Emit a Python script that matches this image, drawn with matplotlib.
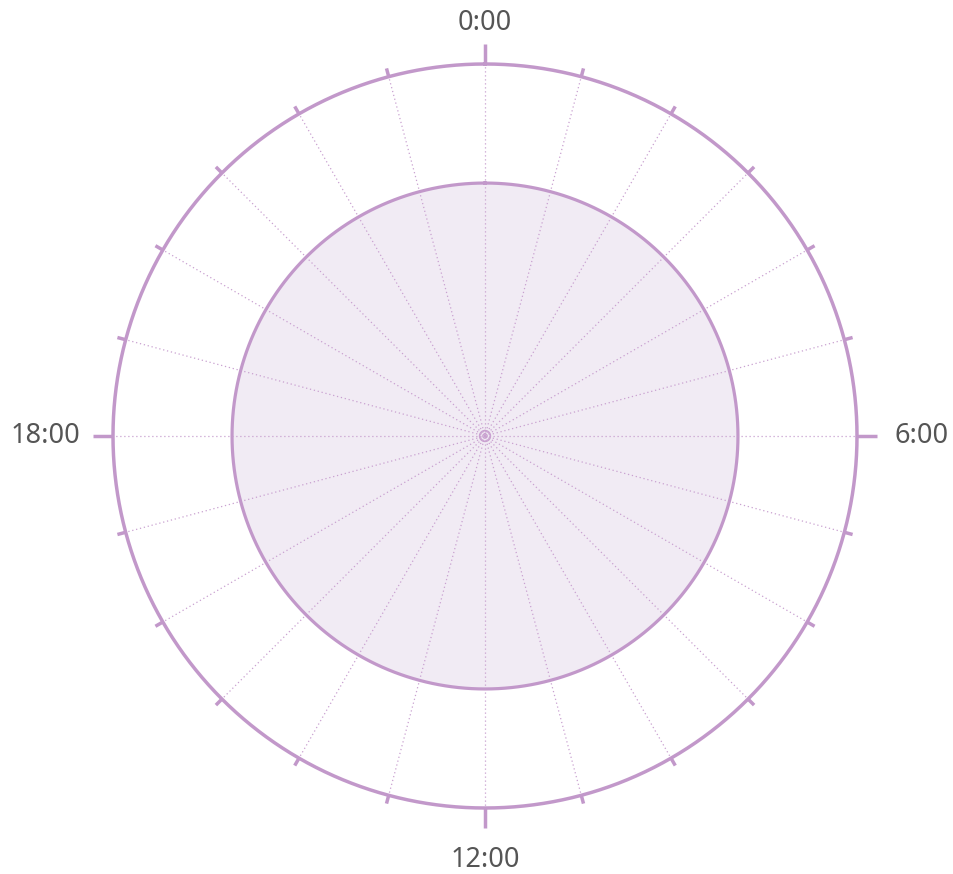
import numpy as np
import matplotlib
matplotlib.use("Agg")
import matplotlib.pyplot as plt

hours = list(range(24))
values = [68, 68, 68, 68, 68, 68, 68, 68, 68, 68, 68, 68,
          68, 68, 68, 68, 68, 68, 68, 68, 68, 68, 68, 68]
r_max = 100
hour_labels = {0: "0:00", 6: "6:00", 12: "12:00", 18: "18:00"}

line_c = "#c298ca"
fill_c = "#f1ebf4"
text_c = "#555555"

fig = plt.figure(figsize=(9.54, 8.74), dpi=100)
ax = fig.add_axes([113/954, 66/874, 744/954, 744/874], projection="polar")
ax.set_theta_zero_location("N")
ax.set_theta_direction(-1)
ax.set_ylim(0, r_max)
ax.grid(False)
ax.spines["polar"].set_visible(False)
ax.set_xticks([])
ax.set_yticks([])
ax.patch.set_alpha(0)

theta_full = np.linspace(0, 2*np.pi, 721)
angles = [h / 24 * 2*np.pi for h in hours]

# data area (closed)
th = angles + [angles[0] + 2*np.pi]
vals = values + [values[0]]
th_f = np.linspace(0, 2*np.pi, 721)
v_f = np.interp(th_f, th, vals)
ax.fill(th_f, v_f, color=fill_c, zorder=1)
ax.plot(th_f, v_f, color=line_c, lw=2.3, zorder=4)

# spokes
for a in angles:
    ax.plot([a, a], [0, r_max], color="#c9a1d0", lw=0.9, ls=(0, (1, 2.2)), zorder=2)

# small centre rings
for rr in [0.6, 1.5]:
    ax.plot(theta_full, [rr]*len(theta_full), color="#c9a1d0", lw=0.9, zorder=3)

# outer circle
ax.plot(theta_full, [r_max]*len(theta_full), color=line_c, lw=2.5, zorder=4, clip_on=False)

# ticks
for h, a in zip(hours, angles):
    ext = 5.4 if h in hour_labels else 2.3
    ax.plot([a, a], [r_max, r_max + ext], color=line_c, lw=2.5, zorder=4,
            clip_on=False, solid_capstyle="butt")

# labels
fp = dict(fontsize=19.5, color=text_c, family=["Noto Sans", "DejaVu Sans"])
ax.text(0, 110.9, hour_labels[0], ha="center", va="center", **fp)
ax.text(np.pi/2, 110.0, hour_labels[6], ha="left", va="center", **fp)
ax.text(np.pi, 113.9, hour_labels[12], ha="center", va="center", **fp)
ax.text(3*np.pi/2, 108.7, hour_labels[18], ha="right", va="center", **fp)

fig.savefig("out.png", dpi=100, facecolor="white")
